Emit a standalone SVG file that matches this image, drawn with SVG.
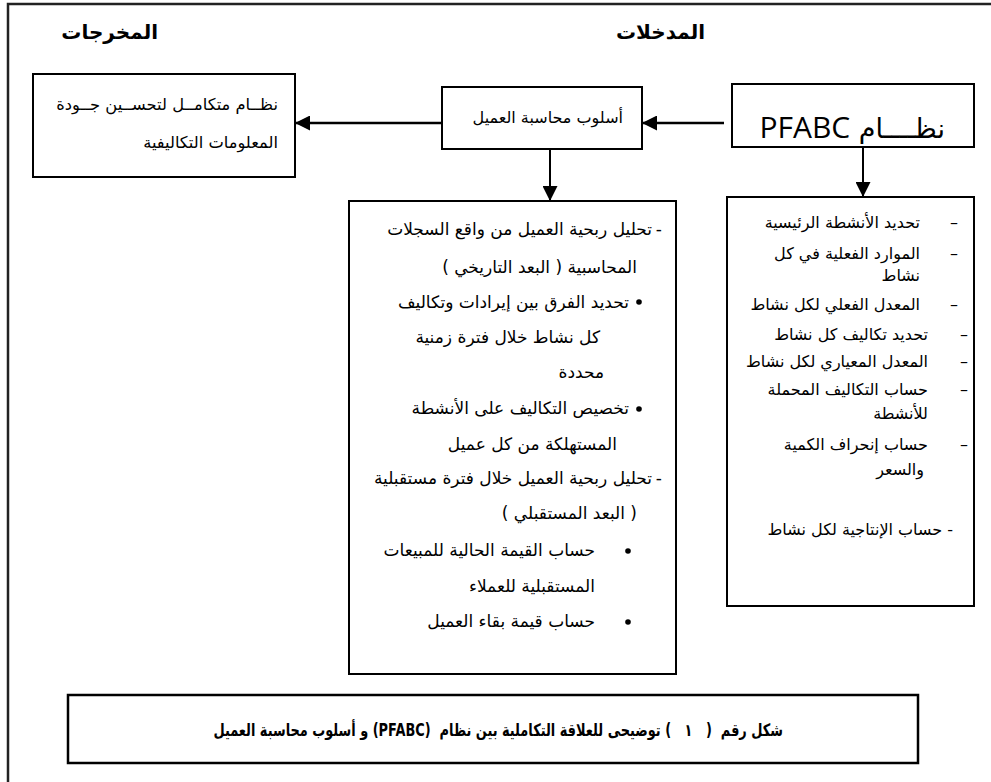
<svg xmlns="http://www.w3.org/2000/svg" width="991" height="782" viewBox="0 0 991 782">
<style>
.box{fill:#fff;stroke:#000;stroke-width:2}
.frame{fill:none;stroke:#222;stroke-width:2.5}
.t{font-family:"DejaVu Sans",sans-serif;font-size:16px;fill:#000;direction:rtl;unicode-bidi:embed;text-anchor:start}
.m{font-size:17px}
.h{font-weight:bold;font-size:20px}
.cap{font-weight:bold;font-size:17px}
.lat{font-family:"Open Sans","Liberation Sans",sans-serif}
.ln{stroke:#000;stroke-width:2.5;fill:none}
.lv{stroke:#000;stroke-width:2;fill:none}
.dot{fill:#000}
</style>
<defs>
<marker id="ah" markerUnits="userSpaceOnUse" markerWidth="15" markerHeight="15" viewBox="0 0 14 14" refX="14" refY="7" orient="auto"><path d="M0,0 L14,7 L0,14 z" fill="#000"/></marker>
</defs>
<rect class="frame" x="8" y="4" width="1000" height="800"/>
<g id="headers">
<text class="t h" x="158" y="39">المخرجات</text>
<text class="t h" x="705" y="39">المدخلات</text>
</g>
<g id="node-output">
<rect class="box" x="33" y="74" width="262" height="103"/>
<text class="t" x="278" y="110" style="font-size:16.3px">نظــام متكامــل لتحســين جــودة</text>
<text class="t" x="278" y="148" style="font-size:16.3px">المعلومات التكاليفية</text>
</g>
<g id="node-customer">
<rect class="box" x="442" y="87" width="200" height="62"/>
<text class="t" x="623" y="123">أسلوب محاسبة العميل</text>
</g>
<g id="node-pfabc">
<rect class="box" x="732" y="84" width="242" height="63"/>
<text class="t" x="945" y="138" style="font-size:27px">نظــــام <tspan class="lat" style="font-size:30px">PFABC</tspan></text>
</g>
<g id="node-customer-list">
<rect class="box" x="349" y="201" width="327" height="473"/>
<text class="t m" x="662" y="235">-</text>
<text class="t m" x="652" y="235">تحليل ربحية العميل من واقع السجلات</text>
<text class="t m" x="637" y="273">المحاسبية ( البعد التاريخي )</text>
<circle class="dot" cx="639" cy="302" r="2.8"/>
<text class="t m" x="629" y="308">تحديد الفرق بين إيرادات وتكاليف</text>
<text class="t m" x="600" y="343">كل نشاط خلال فترة زمنية</text>
<text class="t m" x="604" y="378">محددة</text>
<circle class="dot" cx="639" cy="409" r="2.8"/>
<text class="t m" x="629" y="414">تخصيص التكاليف على الأنشطة</text>
<text class="t m" x="617" y="450">المستهلكة من كل عميل</text>
<text class="t m" x="662" y="484">-</text>
<text class="t m" x="652" y="484">تحليل ربحية العميل خلال فترة مستقبلية</text>
<text class="t m" x="637" y="519">( البعد المستقبلي )</text>
<circle class="dot" cx="628" cy="551" r="2.8"/>
<text class="t m" x="595" y="556">حساب القيمة الحالية للمبيعات</text>
<text class="t m" x="595" y="592">المستقبلية للعملاء</text>
<circle class="dot" cx="628" cy="622" r="2.8"/>
<text class="t m" x="595" y="627">حساب قيمة بقاء العميل</text>
</g>
<g id="node-pfabc-list">
<rect class="box" x="727" y="197" width="247" height="409"/>
<text class="t" x="958" y="228">–</text>
<text class="t" x="920" y="228">تحديد الأنشطة الرئيسية</text>
<text class="t" x="958" y="259">–</text>
<text class="t" x="920" y="259">الموارد الفعلية في كل</text>
<text class="t" x="920" y="281">نشاط</text>
<text class="t" x="958" y="310">–</text>
<text class="t" x="920" y="310">المعدل الفعلي لكل نشاط</text>
<text class="t" x="968" y="340">–</text>
<text class="t" x="928" y="340">تحديد تكاليف كل نشاط</text>
<text class="t" x="968" y="367">–</text>
<text class="t" x="928" y="367">المعدل المعياري لكل نشاط</text>
<text class="t" x="968" y="395">–</text>
<text class="t" x="928" y="395">حساب التكاليف المحملة</text>
<text class="t" x="928" y="419">للأنشطة</text>
<text class="t" x="968" y="450">–</text>
<text class="t" x="928" y="450">حساب إنحراف الكمية</text>
<text class="t" x="924" y="475">والسعر</text>
<text class="t" x="953" y="535">- حساب الإنتاجية لكل نشاط</text>
</g>
<g id="connectors">
<line class="ln" x1="724" y1="123" x2="642" y2="123" marker-end="url(#ah)"/>
<line class="ln" x1="442" y1="123" x2="295" y2="123" marker-end="url(#ah)"/>
<line class="lv" x1="550" y1="149" x2="550" y2="201" marker-end="url(#ah)"/>
<line class="lv" x1="863" y1="147" x2="863" y2="197" marker-end="url(#ah)"/>
</g>
<g id="node-caption">
<rect class="box" x="68" y="695" width="850" height="68" style="stroke-width:2.5"/>
<text class="t cap" x="0" y="0" transform="translate(783,736) scale(0.76,1)" xml:space="preserve">شكل رقم  (   ١   ) توضيحى للعلاقة التكاملية بين نظام  (PFABC) و أسلوب محاسبة العميل</text>
</g>
</svg>
